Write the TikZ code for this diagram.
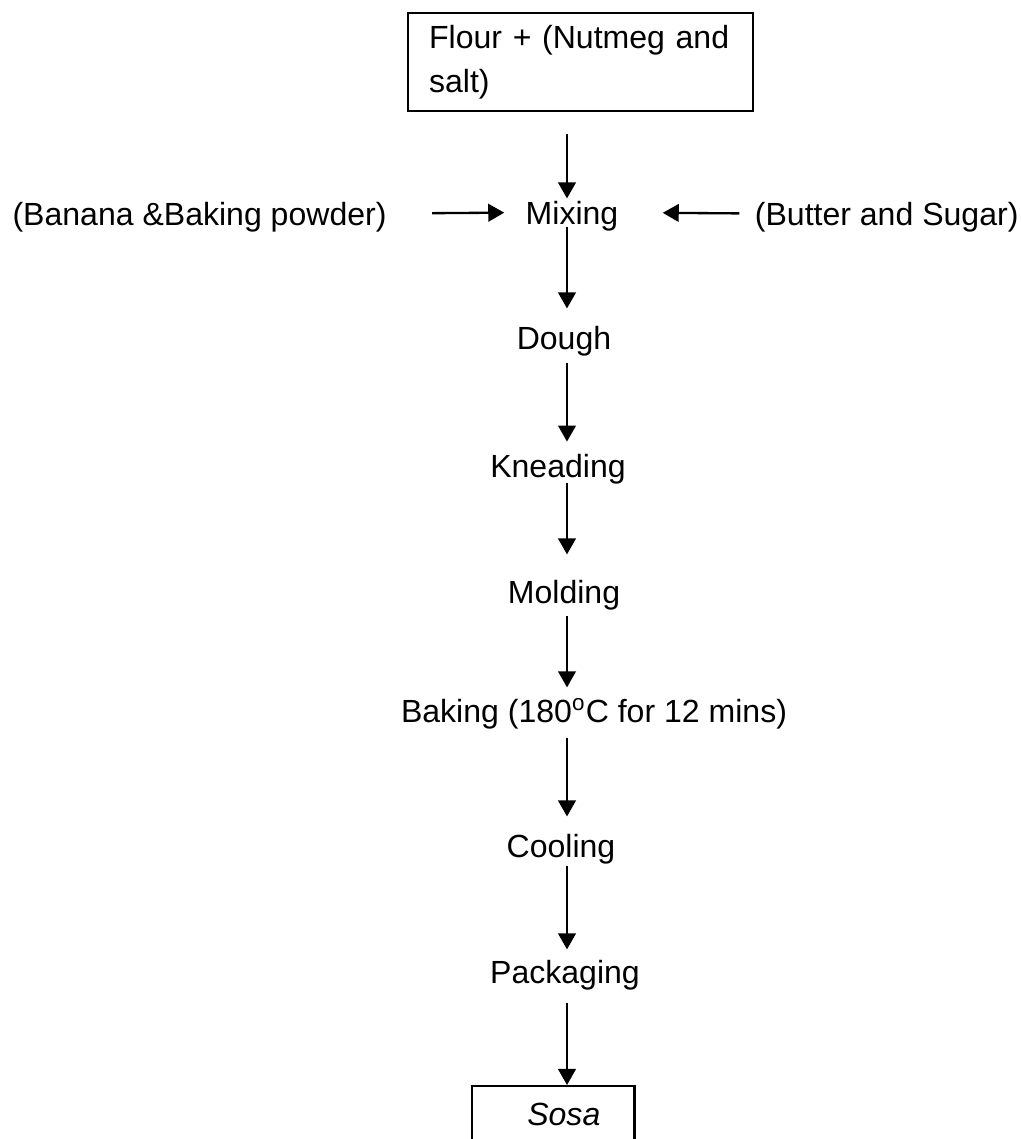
\documentclass[tikz,border=0pt]{standalone}
\usepackage{fontspec}
\setmainfont{Liberation Sans}
\usetikzlibrary{positioning, arrows.meta}

\tikzset{
  stepnode/.style={inner sep=0pt, text height=8.9pt, text depth=0pt, anchor=base},
  boxnode/.style={draw, line width=0.9pt},
  flow/.style={line width=0.9pt, -{Triangle[width=6.8pt,length=6.2pt]}}
}

\begin{document}
\begin{tikzpicture}[x=0.387pt, y=-0.387pt, font=\fontsize{12.4}{17}\selectfont]
    \useasboundingbox (0,0) rectangle (1021,1139);

    % Ingredienti di partenza
    \node[boxnode, anchor=north west, minimum width=133.5pt, minimum height=37.9pt,
          inner xsep=8.1pt, text width=117.3pt, align=left] (flour) at (407,12)
          {Flour + (Nutmeg and\\salt)};
    \node[stepnode, anchor=base west] (banana) at (12,225) {(Banana \&Baking powder)};
    \node[stepnode, anchor=base east] (butter) at (1019,225) {(Butter and Sugar)};

    % Fasi del processo
    \foreach \name/\x/\y/\txt in {mixing/572/224/{Mixing},
                                 dough/564/349/{Dough},
                                 kneading/558/477/{Kneading},
                                 molding/564/603/{Molding},
                                 baking/594/722/{Baking (180\textsuperscript{o}C for 12 mins)},
                                 cooling/561/857/{Cooling},
                                 packaging/565/983/{Packaging}}
        \node[stepnode] (\name) at (\x,\y) {\txt};

    % Prodotto finale
    \node[boxnode, anchor=north west, minimum width=62.7pt, inner xsep=13.2pt, inner ysep=6.2pt,
          text width=36.4pt, align=right, text height=8.9pt, text depth=11.6pt,
          font=\fontsize{12.4}{17}\selectfont\itshape] (sosa) at (471,1085) {Sosa};

    % Frecce
    \coordinate (axis) at (567,0);
    \draw[flow, shorten <=17.4pt, shorten >=8.1pt] (banana.east) -- (mixing.west);
    \draw[flow, shorten <=5.8pt, shorten >=17pt] (butter.west) -- (mixing.east);
    \foreach \a/\b/\s/\e in {flour/mixing/8.5pt/0.8pt,
                             mixing/dough/0.8pt/6.6pt,
                             dough/kneading/5.4pt/4.6pt,
                             kneading/molding/2.3pt/9.7pt,
                             molding/baking/5.0pt/4.3pt,
                             baking/cooling/5.8pt/6.6pt,
                             cooling/packaging/3.1pt/3.9pt,
                             packaging/sosa/7.4pt/0pt}
        \draw[flow, shorten <=\s, shorten >=\e] (\a.south -| axis) -- (\b.north -| axis);
\end{tikzpicture}
\end{document}
